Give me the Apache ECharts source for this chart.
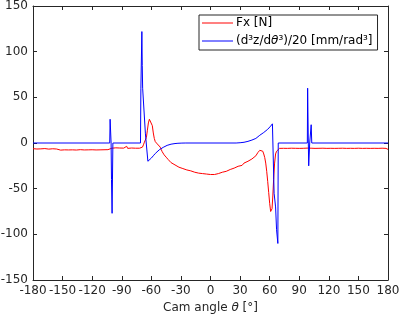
<!DOCTYPE html>
<html>
<head>
<meta charset="utf-8">
<script src="https://cdn.jsdelivr.net/npm/echarts@6/dist/echarts.min.js"></script>
<style>
    html, body { margin: 0; padding: 0; background: #fff; }
    #chart { width: 400px; height: 315px; }
</style>
</head>
<body>
<div id="chart"></div>
<script>
// [angle in degrees, value]
var FX_POINTS = [
    [-180, -6.2], [-178, -7.6], [-176, -6.6], [-174, -7.8], [-172, -6.4], [-170, -7.3], [-168, -6.1], [-166, -7.7],
    [-164, -6.7], [-162, -7.5], [-160, -6.3], [-158, -7.7], [-156, -6.6], [-154, -7.2], [-152, -7.8], [-150, -6.5],
    [-148, -7.5], [-146, -6.4], [-144, -7.6], [-142, -6.5], [-140, -7.5], [-138, -6.2], [-136, -7.7], [-134, -6.7],
    [-132, -7.3], [-130, -6.1], [-128, -7.6], [-126, -6.6], [-124, -7.5], [-122, -6.3], [-120, -7.4], [-118, -6.4],
    [-116, -7.6], [-114, -6.2], [-112, -7.5], [-110, -6.5], [-108, -7.4], [-106, -6.1], [-104, -7.3], [-102, -6.3],
    [-100, -5.7], [-98, -6.9], [-96, -5.3], [-94, -6.7], [-92, -5.5], [-90, -6.6], [-88, -5.6], [-86, -4.4],
    [-85, -3.6], [-84, -5.9], [-82, -6.5], [-80, -5.5], [-78, -6.8], [-76, -5.7], [-74, -6.9], [-72, -5.7],
    [-70, -5.6], [-69, -4.5], [-68, -2], [-67, 1], [-66, 3], [-65, 6], [-64, 14], [-63, 22], [-62, 26], [-61, 26.5],
    [-60, 25], [-59, 19], [-58, 11], [-57, 5], [-56, 1.5], [-55, 0], [-54, -1], [-53, -2.5], [-52, -3], [-51, -4.5],
    [-50, -7], [-49, -9.5], [-48, -11.5], [-47, -13], [-46, -14.5], [-45, -15.5], [-44, -17], [-43, -18], [-42, -19.5],
    [-41, -20], [-40, -21.5], [-38, -22.5], [-36, -24], [-34, -25], [-32, -26.5], [-30, -27], [-28, -28], [-26, -29],
    [-24, -29.5], [-22, -30.5], [-20, -30.5], [-18, -31.5], [-16, -32], [-14, -31.5], [-12, -33], [-10, -32.5],
    [-8, -33.5], [-6, -33], [-4, -34], [-2, -33.5], [0, -34.5], [2, -34], [4, -34.5], [6, -33.5], [8, -33.5],
    [10, -32.5], [12, -32], [14, -31], [16, -31], [18, -29.5], [20, -29], [22, -28], [24, -27.5], [26, -26],
    [28, -25.5], [30, -24], [32, -24.5], [34, -22], [36, -22.5], [38, -20], [40, -19], [42, -17.5], [44, -17],
    [46, -14], [48, -10.5], [50, -8], [51, -7], [52, -7.5], [53, -9], [54, -12], [55, -16], [56, -22], [57, -31],
    [58, -42], [59, -54], [60, -66], [61, -75], [61.6, -77], [62.4, -72], [63.2, -58], [64, -40], [65, -22],
    [66, -12], [67, -9], [68, -8], [69, -7], [70, -5.9], [72, -7.2], [74, -5.8], [76, -7.1], [78, -5.9], [80, -7.2],
    [82, -5.7], [84, -7.0], [86, -5.8], [88, -7.1], [90, -5.9], [92, -7.2], [94, -5.8], [96, -7.0], [98, -5.6],
    [100, -6.9], [102, -5.7], [104, -7.1], [106, -5.9], [108, -7.2], [110, -5.8], [112, -7.0], [114, -5.7],
    [116, -7.1], [118, -5.9], [120, -7.2], [122, -5.8], [124, -7.0], [126, -5.9], [128, -7.2], [130, -5.8],
    [132, -7.1], [134, -5.7], [136, -7.0], [138, -5.9], [140, -7.2], [142, -5.8], [144, -7.1], [146, -5.9],
    [148, -7.0], [150, -5.7], [152, -7.1], [154, -5.9], [156, -7.2], [158, -5.8], [160, -7.0], [162, -5.9],
    [164, -7.1], [166, -5.8], [168, -7.2], [170, -5.9], [172, -7.0], [174, -5.7], [176, -7.1], [178, -5.9], [180, -7.0]
];

var JERK_POINTS = [
    [-180, 0], [-102.2, 0], [-101.8, 26], [-101.2, 26], [-100.8, 0], [-100.4, -40], [-99.8, -77], [-99.4, -77],
    [-99, 0], [-71, 0], [-70.6, 60], [-70, 60], [-69.6, 122], [-69.2, 85], [-68.8, 60], [-68.3, 60], [-66, 10],
    [-63.5, -20], [-62, -19.5], [-60, -16.5], [-58, -14], [-56, -11.5], [-54, -9.5], [-52, -7.5], [-50, -6],
    [-48, -4.8], [-46, -3.6], [-44, -2.6], [-42, -1.9], [-40, -1.3], [-38, -0.9], [-36, -0.6], [-33, -0.3],
    [-29, -0.1], [-25, 0], [26, 0], [30, 0.3], [34, 0.8], [38, 1.8], [42, 3.2], [46, 5], [50, 8.5], [54, 11.5],
    [58, 15], [61, 18.5], [62.8, 21], [64.5, -55], [66, -70], [67, -95], [68.3, -110], [68.7, 0], [98.2, 0],
    [98.5, 60], [98.9, 60], [99.2, 0], [99.6, -25], [100.2, -25], [100.6, 0], [101.8, 0], [102.1, 20], [102.4, 20],
    [102.7, 0], [180, 0]
];

var X_TICKS = [-180, -150, -120, -90, -60, -30, 0, 30, 60, 90, 120, 150, 180];
var Y_TICKS = [-150, -100, -50, 0, 50, 100, 150];

var FX_NAME = 'Fx [N]';
var JERK_NAME = '(d³z/dθ³)/20 [mm/rad³]';

var FONT = 'DejaVu Sans';
var AXIS_COLOR = '#262626';

var chart = echarts.init(document.getElementById('chart'));

function boxAxis(position, ticks, showLabel) {
    return {
        type: 'value',
        position: position,
        min: ticks[0],
        max: ticks[ticks.length - 1],
        interval: ticks[1] - ticks[0],
        splitLine: {show: false},
        axisLine: {show: true, onZero: false, lineStyle: {color: AXIS_COLOR, width: 1}},
        axisTick: {show: true, inside: true, length: 4, lineStyle: {color: AXIS_COLOR}},
        axisLabel: {show: showLabel, color: AXIS_COLOR, fontFamily: FONT, fontSize: 12, margin: 5}
    };
}

var xBottom = boxAxis('bottom', X_TICKS, true);
xBottom.name = 'Cam angle {i|θ} [°]';
xBottom.nameLocation = 'middle';
xBottom.nameGap = 21;
xBottom.nameTextStyle = {
    color: AXIS_COLOR, fontFamily: FONT, fontSize: 12,
    rich: {i: {fontStyle: 'italic', fontFamily: FONT, fontSize: 12, color: AXIS_COLOR}}
};

chart.setOption({
    animation: false,
    backgroundColor: '#fff',
    grid: {left: 33, right: 12, top: 6, bottom: 35, containLabel: false, outerBoundsMode: 'none'},
    xAxis: [xBottom, boxAxis('top', X_TICKS, false)],
    yAxis: [boxAxis('left', Y_TICKS, true), boxAxis('right', Y_TICKS, false)],
    legend: {
        orient: 'vertical',
        left: 199,
        top: 15,
        icon: 'rect',
        itemWidth: 31,
        itemHeight: 1,
        itemGap: 6,
        padding: [2, 5, 3, 3],
        backgroundColor: '#fff',
        borderColor: AXIS_COLOR,
        borderWidth: 1,
        borderRadius: 0,
        data: [FX_NAME, JERK_NAME],
        formatter: function (name) {
            if (name === JERK_NAME) {
                return '(d³z/d{i|θ}³)/20 [mm/rad³]';
            }
            return name;
        },
        textStyle: {
            color: '#000', fontFamily: FONT, fontSize: 12, padding: [0, 0, 0, -2],
            rich: {i: {fontStyle: 'italic', fontFamily: FONT, fontSize: 12, color: '#000'}}
        }
    },
    series: [
        {
            name: FX_NAME,
            type: 'line',
            data: FX_POINTS,
            symbol: 'none',
            color: '#ff0000',
            lineStyle: {width: 1, color: '#ff0000'}
        },
        {
            name: JERK_NAME,
            type: 'line',
            data: JERK_POINTS,
            symbol: 'none',
            color: '#0000ff',
            lineStyle: {width: 1, color: '#0000ff'}
        }
    ]
});
</script>
</body>
</html>
